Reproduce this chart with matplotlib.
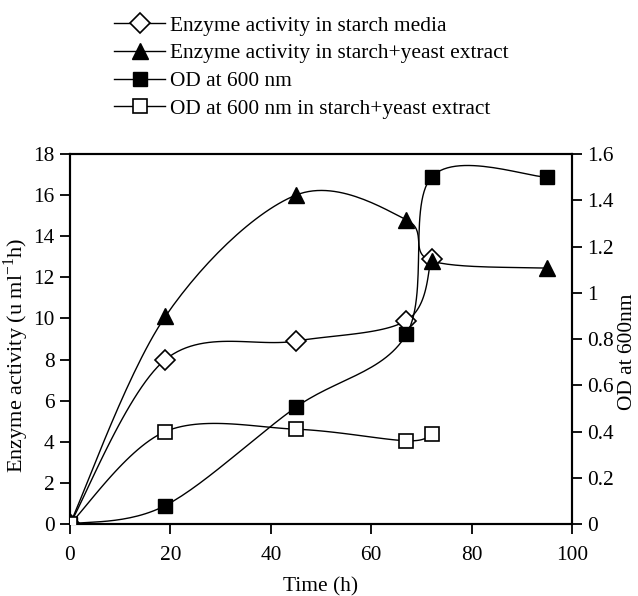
import numpy as np
import matplotlib
matplotlib.use('Agg')
import matplotlib.pyplot as plt
from matplotlib.ticker import FuncFormatter
from matplotlib.lines import Line2D

plt.rcParams['font.family'] = ['Liberation Serif', 'DejaVu Serif']
plt.rcParams['mathtext.fontset'] = 'custom'
plt.rcParams['mathtext.rm'] = 'Liberation Serif'

# datos
t_starch = [0, 19, 45, 67, 72]
act_starch = [0, 8.0, 8.9, 9.9, 12.9]

t_yeast = [0, 19, 45, 67, 72, 95]
act_yeast = [0, 10.1, 16.0, 14.8, 12.8, 12.45]

t_od = [0, 19, 45, 67, 72, 95]
od = [0, 0.08, 0.505, 0.82, 1.5, 1.5]

t_od_yeast = [0, 19, 45, 67, 72]
od_yeast = [0, 0.40, 0.41, 0.36, 0.39]


def suave(x, y, n=30):
    """Curva suavizada tipo Excel (Bezier con puntos de control a 1/6)"""
    p = np.column_stack([x, y]).astype(float)
    p_ext = np.vstack([p[0], p, p[-1]])
    xs, ys = [], []
    s = np.linspace(0, 1, n)[:, None]
    for i in range(len(p) - 1):
        p0, p1 = p_ext[i + 1], p_ext[i + 2]
        c1 = p0 + (p_ext[i + 2] - p_ext[i]) / 6
        c2 = p1 - (p_ext[i + 3] - p_ext[i + 1]) / 6
        b = (1 - s)**3 * p0 + 3 * (1 - s)**2 * s * c1 + 3 * (1 - s) * s**2 * c2 + s**3 * p1
        xs.extend(b[:, 0]); ys.extend(b[:, 1])
    return xs, ys


fig = plt.figure(figsize=(6.38, 5.96), dpi=100)
ax = fig.add_axes([0.1097, 0.1208, 0.787, 0.6208])
ax2 = ax.twinx()

fs = 15.4
lw = 1.0
m_rombo = dict(marker='D', ms=10.5, mfc='white', mec='black', mew=1.2)
m_tri = dict(marker='^', ms=11.5, mfc='black', mec='black')
m_cuad = dict(marker='s', ms=10, mfc='black', mec='black')
m_cuad_b = dict(marker='s', ms=10, mfc='white', mec='black', mew=1.2)

ax.plot(*suave(t_starch, act_starch), color='black', lw=lw, zorder=2)
ax.plot(t_starch, act_starch, ls='none', zorder=3, **m_rombo)

ax.plot(*suave(t_yeast, act_yeast), color='black', lw=lw, zorder=2)
ax.plot(t_yeast, act_yeast, ls='none', zorder=3, **m_tri)

ax2.plot(*suave(t_od, od), color='black', lw=lw, zorder=2)
ax2.plot(t_od, od, ls='none', zorder=3, **m_cuad)

ax2.plot(*suave(t_od_yeast, od_yeast), color='black', lw=lw, zorder=2)
ax2.plot(t_od_yeast, od_yeast, ls='none', zorder=3, **m_cuad_b)

ax.set_xlim(0, 100)
ax.set_ylim(0, 18)
ax2.set_ylim(0, 1.6)
ax.set_xticks(range(0, 101, 20))
ax.set_yticks(range(0, 19, 2))
ax2.set_yticks(np.arange(0, 1.61, 0.2))
ax2.yaxis.set_major_formatter(FuncFormatter(lambda v, p: '%g' % round(v, 1)))

for a in (ax, ax2):
    for sp in a.spines.values():
        sp.set_linewidth(1.5)
    a.tick_params(direction='out', length=7, width=1.3, labelsize=fs, pad=4)
ax.tick_params(axis='x', pad=9)

ax.set_xlabel('Time (h)', fontsize=fs, labelpad=9)
ax.set_ylabel(r'Enzyme activity (u ml$^{\mathregular{-1}}$h)', fontsize=16)
ax.yaxis.set_label_coords(-0.078, 0.457)
ax2.set_ylabel('OD at 600nm', fontsize=fs)
ax2.yaxis.set_label_coords(1.092, 0.465)

# leyenda arriba, sin marco
h = [Line2D([], [], color='black', lw=lw, **m_rombo),
     Line2D([], [], color='black', lw=lw, **m_tri),
     Line2D([], [], color='black', lw=lw, **m_cuad),
     Line2D([], [], color='black', lw=lw, **m_cuad_b)]
etiquetas = ['Enzyme activity in starch media',
             'Enzyme activity in starch+yeast extract',
             'OD at 600 nm',
             'OD at 600 nm in starch+yeast extract']
fig.legend(h, etiquetas, loc='upper left', bbox_to_anchor=(0.157, 0.997), frameon=False,
           fontsize=fs, handlelength=2.4, handletextpad=0.2, labelspacing=0.36,
           borderaxespad=0.25)

fig.savefig('out.png', dpi=100)
